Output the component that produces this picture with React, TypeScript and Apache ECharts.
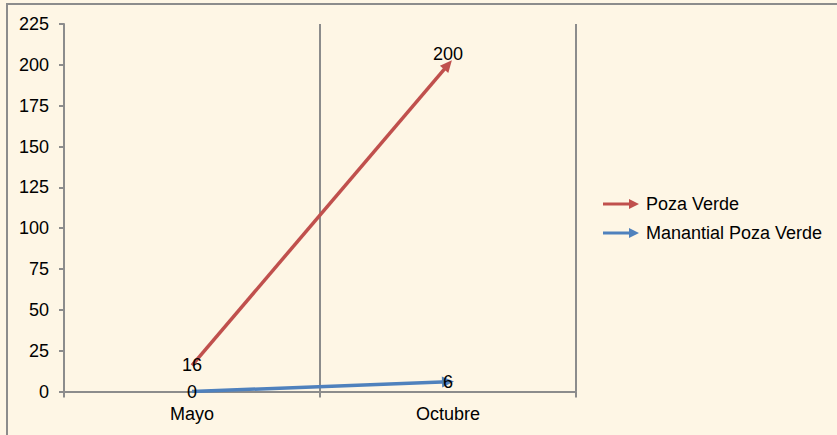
import React, { useEffect, useRef } from "react";
import * as echarts from "echarts";

const categories = ["Mayo", "Octubre"];
const pozaVerde = [16, 200];
const manantial = [0, 6];
const yTicks = { min: 0, max: 225, interval: 25 };
const seriesNames = ["Poza Verde", "Manantial Poza Verde"];

const FONT = "'Liberation Sans', Arial, sans-serif";
const FS = 18;
const ARROW = "path://M0,10 L5,0 L10,10 Z";
const LEGEND_ICON = "path://M0,3.5 L26,3.5 L26,0 L36,5 L26,10 L26,6.5 L0,6.5 Z";

export default function App() {
  const ref = useRef<HTMLDivElement>(null);
  useEffect(() => {
    if (!ref.current) return;
    const chart = echarts.init(ref.current, undefined, { renderer: "svg" });
    const mk = (vals: number[], rot: number, lastOffset: number[]) =>
      vals.map((v, i) => {
        const last = i === vals.length - 1;
        return {
          value: v,
          symbol: last ? ARROW : "circle",
          symbolSize: last ? [11, 12] : 0,
          symbolRotate: last ? rot : 0,
          label: last ? { offset: lastOffset } : undefined,
        };
      });
    const build = (r1: number, r2: number) => ({
      animation: false,
      backgroundColor: "#FEF6E5",
      textStyle: { fontFamily: FONT },
      grid: { left: 64, right: 261, top: 24, bottom: 43.5 },
      graphic: [
        {
          type: "rect",
          shape: { x: 7, y: 4, width: 1000, height: 1000 },
          style: { fill: "none", stroke: "#8c8c8c", lineWidth: 2 },
          silent: true,
        },
      ],
      legend: {
        orient: "vertical",
        left: 598,
        top: 190,
        itemWidth: 36,
        itemHeight: 10,
        itemGap: 11,
        data: seriesNames.map((n) => ({ name: n, icon: LEGEND_ICON })),
        textStyle: { fontSize: FS, color: "#000", fontFamily: FONT, padding: [0, 0, 0, 2] },
      },
      xAxis: {
        type: "category",
        data: categories,
        boundaryGap: true,
        axisLine: { lineStyle: { color: "#8c8c8c", width: 2 } },
        axisTick: { show: true, length: 6, lineStyle: { color: "#8c8c8c", width: 2 } },
        axisLabel: { color: "#000", fontSize: FS, margin: 13, fontFamily: FONT },
        splitLine: { show: true, lineStyle: { color: "#8c8c8c", width: 2 } },
      },
      yAxis: {
        type: "value",
        min: yTicks.min,
        max: yTicks.max,
        interval: yTicks.interval,
        axisLine: { show: true, lineStyle: { color: "#8c8c8c", width: 2 } },
        axisTick: { show: true, length: 5, lineStyle: { color: "#8c8c8c", width: 2 } },
        axisLabel: { color: "#000", fontSize: FS, margin: 15, fontFamily: FONT },
        splitLine: { show: false },
      },
      series: [
        {
          name: seriesNames[0],
          type: "line",
          color: "#C0504D",
          lineStyle: { width: 3.5, color: "#C0504D" },
          itemStyle: { color: "#C0504D" },
          showSymbol: true,
          label: { show: true, position: "inside", color: "#000", fontSize: FS, fontFamily: FONT },
          data: mk(pozaVerde, r1, [0, -11]),
        },
        {
          name: seriesNames[1],
          type: "line",
          color: "#4F81BD",
          lineStyle: { width: 3.5, color: "#4F81BD" },
          itemStyle: { color: "#4F81BD" },
          showSymbol: true,
          label: { show: true, position: "inside", color: "#000", fontSize: FS, fontFamily: FONT },
          data: mk(manantial, r2, [0, 0]),
        },
      ],
    });
    chart.setOption(build(0, 0) as any);
    const angle = (si: number, vals: number[]) => {
      const n = vals.length;
      const a = chart.convertToPixel({ seriesIndex: si }, [n - 2, vals[n - 2]]) as number[];
      const b = chart.convertToPixel({ seriesIndex: si }, [n - 1, vals[n - 1]]) as number[];
      const deg = (Math.atan2(a[1] - b[1], b[0] - a[0]) * 180) / Math.PI;
      return deg - 90;
    };
    chart.setOption(build(angle(0, pozaVerde), angle(1, manantial)) as any);
    return () => chart.dispose();
  }, []);
  return (
    <div style={{ position: "fixed", left: 0, top: 0, width: 837, height: 435 }}>
      <div ref={ref} style={{ width: 837, height: 435 }} />
    </div>
  );
}
